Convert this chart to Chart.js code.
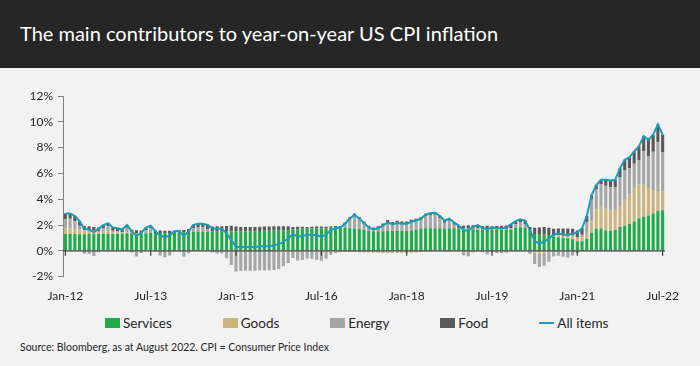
<!DOCTYPE html>
<html>
<head>
<meta charset="utf-8">
<script src="https://cdn.jsdelivr.net/npm/chart.js@4.4.0/dist/chart.umd.min.js"></script>
<style>
  html, body { margin: 0; padding: 0; }
  body { width: 700px; height: 366px; background: #f2f2f2; font-family: Lato, 'Open Sans', sans-serif; position: relative; overflow: hidden; }
  #header { position: absolute; left: 0; top: 0; width: 700px; height: 68px; background: #262626; }
  #header h1 { position: absolute; left: 20px; top: 20px; margin: 0; font-size: 20px; line-height: 26px; font-weight: normal; color: #fff; white-space: nowrap; }
  #chartBox { position: absolute; left: 0; top: 68px; width: 700px; height: 239px; }
  #legend { position: absolute; left: 105px; top: 315px; display: flex; gap: 51px; font-size: 13.5px; color: #262626; line-height: 16px; }
  #legend .item { display: flex; align-items: center; }
  #legend .sw { display: inline-block; width: 15px; height: 10px; margin-right: 3px; }
  #legend .ln { display: inline-block; width: 15px; height: 2px; margin-right: 3px; }
  #source { position: absolute; left: 20px; top: 341px; font-size: 10.5px; color: #262626; white-space: nowrap; }
</style>
</head>
<body>
<div id="header"><h1>The main contributors to year-on-year US CPI inflation</h1></div>
<div id="chartBox"><canvas id="cpiChart" width="700" height="239"></canvas></div>
<div id="legend"></div>
<div id="source">Source: Bloomberg, as at August 2022. CPI = Consumer Price Index</div>
<script>
// month labels Jan-12 .. Jul-22
const monthNames = ['Jan', 'Feb', 'Mar', 'Apr', 'May', 'Jun', 'Jul', 'Aug', 'Sep', 'Oct', 'Nov', 'Dec'];
const years = ['12', '13', '14', '15', '16', '17', '18', '19', '20', '21', '22'];
const labels = [];
years.forEach(function (yr) {
  monthNames.forEach(function (m) {
    if (labels.length < 127) labels.push(m + '-' + yr);
  });
});
const shownTicks = ['Jan-12', 'Jul-13', 'Jan-15', 'Jul-16', 'Jan-18', 'Jul-19', 'Jan-21', 'Jul-22'];

// contributions, percentage points
const services = [
  1.30, 1.30, 1.30, 1.28, 1.28, 1.30, 1.30, 1.30, 1.32, 1.32, 1.33, 1.33,
  1.35, 1.36, 1.36, 1.35, 1.35, 1.37, 1.38, 1.38, 1.38, 1.37, 1.38, 1.40,
  1.42, 1.43, 1.45, 1.47, 1.48, 1.48, 1.50, 1.50, 1.50, 1.50, 1.50, 1.50,
  1.50, 1.50, 1.50, 1.52, 1.52, 1.53, 1.55, 1.55, 1.57, 1.58, 1.60, 1.62,
  1.65, 1.68, 1.70, 1.70, 1.72, 1.75, 1.75, 1.75, 1.78, 1.80, 1.80, 1.80,
  1.75, 1.72, 1.70, 1.62, 1.55, 1.52, 1.52, 1.52, 1.55, 1.53, 1.55, 1.55,
  1.55, 1.58, 1.65, 1.72, 1.75, 1.75, 1.75, 1.75, 1.72, 1.75, 1.75, 1.72,
  1.70, 1.68, 1.68, 1.65, 1.63, 1.65, 1.63, 1.65, 1.65, 1.63, 1.65, 1.80,
  1.83, 1.80, 1.55, 1.30, 1.25, 1.25, 1.22, 1.10, 1.05, 1.00, 0.98, 0.90,
  0.75, 0.75, 0.92, 1.40, 1.70, 1.73, 1.58, 1.55, 1.62, 1.85, 1.95, 2.07,
  2.27, 2.52, 2.64, 2.74, 2.90, 3.08, 3.15
];
const goods = [
  0.42, 0.40, 0.38, 0.35, 0.32, 0.30, 0.28, 0.24, 0.20, 0.17, 0.13, 0.10,
  0.08, 0.07, 0.05, 0.03, 0.02, 0.01, 0.00, 0.00, -0.01, -0.02, -0.02, -0.03,
  -0.03, -0.04, -0.04, -0.03, -0.03, -0.03, -0.03, -0.04, -0.04, -0.04, -0.05, -0.05,
  -0.05, -0.04, -0.04, -0.04, -0.03, -0.03, -0.03, -0.03, -0.04, -0.05, -0.05, -0.05,
  -0.05, -0.05, -0.05, -0.06, -0.06, -0.07, -0.08, -0.08, -0.08, -0.08, -0.09, -0.10,
  -0.10, -0.10, -0.12, -0.13, -0.14, -0.15, -0.16, -0.17, -0.18, -0.18, -0.18, -0.17,
  -0.17, -0.16, -0.14, -0.10, -0.08, -0.05, -0.04, -0.03, -0.02, -0.01, 0.00, 0.01,
  0.02, 0.03, 0.03, 0.03, 0.03, 0.02, 0.02, 0.03, 0.04, 0.05, 0.05, 0.05,
  0.03, 0.02, -0.02, -0.15, -0.20, -0.15, -0.08, 0.05, 0.15, 0.20, 0.25, 0.28,
  0.30, 0.28, 0.40, 0.90, 1.50, 1.75, 1.70, 1.60, 1.55, 1.65, 2.00, 2.30,
  2.55, 2.62, 2.48, 2.12, 1.82, 1.55, 1.45
];
const energy = [
  0.73, 0.78, 0.62, 0.31, -0.22, -0.25, -0.40, -0.11, 0.21, 0.41, 0.09, 0.08,
  0.00, 0.35, -0.13, -0.44, -0.17, 0.22, 0.37, -0.07, -0.36, -0.48, -0.34, -0.04,
  -0.02, -0.43, -0.15, 0.28, 0.32, 0.32, 0.18, -0.09, -0.16, -0.16, -0.52, -1.05,
  -1.55, -1.52, -1.50, -1.50, -1.52, -1.48, -1.50, -1.47, -1.45, -1.36, -1.15, -0.90,
  -0.50, -0.71, -0.67, -0.54, -0.56, -0.62, -0.70, -0.54, -0.22, -0.09, -0.03, 0.28,
  0.73, 1.06, 0.80, 0.54, 0.26, 0.14, 0.24, 0.44, 0.66, 0.52, 0.60, 0.52,
  0.52, 0.63, 0.64, 0.68, 0.93, 1.02, 1.04, 0.78, 0.45, 0.58, 0.27, 0.02,
  -0.34, -0.43, -0.13, 0.06, -0.12, -0.29, -0.10, -0.17, -0.19, -0.16, 0.07, 0.21,
  0.34, 0.25, -0.23, -0.88, -1.05, -1.00, -0.76, -0.45, -0.38, -0.47, -0.53, -0.36,
  -0.17, 0.22, 0.90, 1.67, 1.60, 1.70, 1.76, 1.80, 1.73, 2.18, 2.28, 2.03,
  1.93, 1.89, 2.59, 2.49, 2.95, 3.79, 3.05
];
const food = [
  0.45, 0.42, 0.40, 0.36, 0.32, 0.30, 0.27, 0.27, 0.27, 0.25, 0.25, 0.24,
  0.22, 0.22, 0.22, 0.21, 0.20, 0.20, 0.20, 0.19, 0.19, 0.18, 0.18, 0.17,
  0.18, 0.19, 0.24, 0.28, 0.33, 0.33, 0.35, 0.38, 0.40, 0.40, 0.42, 0.45,
  0.38, 0.35, 0.34, 0.32, 0.33, 0.33, 0.33, 0.33, 0.34, 0.33, 0.30, 0.28,
  0.20, 0.18, 0.17, 0.15, 0.15, 0.14, 0.13, 0.12, 0.12, 0.12, 0.12, 0.12,
  0.12, 0.12, 0.12, 0.12, 0.13, 0.14, 0.15, 0.16, 0.17, 0.18, 0.18, 0.20,
  0.20, 0.20, 0.20, 0.20, 0.20, 0.20, 0.20, 0.20, 0.20, 0.18, 0.18, 0.20,
  0.22, 0.27, 0.27, 0.26, 0.26, 0.27, 0.25, 0.24, 0.25, 0.28, 0.28, 0.24,
  0.25, 0.28, 0.30, 0.48, 0.55, 0.60, 0.57, 0.55, 0.53, 0.52, 0.50, 0.53,
  0.52, 0.50, 0.48, 0.33, 0.30, 0.32, 0.46, 0.50, 0.60, 0.72, 0.82, 0.85,
  0.95, 1.07, 1.19, 1.25, 1.33, 1.38, 1.35
];
// headline CPI, % y/y
const allItems = [
  2.9, 2.9, 2.7, 2.3, 1.7, 1.65, 1.45, 1.7, 2.0, 2.15, 1.8, 1.75,
  1.65, 2.0, 1.5, 1.15, 1.4, 1.8, 1.95, 1.5, 1.2, 1.05, 1.2, 1.5,
  1.55, 1.15, 1.5, 2.0, 2.1, 2.1, 2.0, 1.75, 1.7, 1.7, 1.35, 0.85,
  0.3, 0.3, 0.3, 0.3, 0.3, 0.35, 0.35, 0.38, 0.42, 0.5, 0.7, 0.95,
  1.3, 1.1, 1.15, 1.25, 1.25, 1.2, 1.1, 1.25, 1.6, 1.75, 1.8, 2.1,
  2.5, 2.8, 2.5, 2.15, 1.8, 1.65, 1.75, 1.95, 2.2, 2.05, 2.15, 2.1,
  2.1, 2.25, 2.35, 2.5, 2.8, 2.92, 2.95, 2.7, 2.35, 2.5, 2.2, 1.95,
  1.6, 1.55, 1.85, 2.0, 1.8, 1.65, 1.8, 1.75, 1.75, 1.8, 2.05, 2.3,
  2.45, 2.35, 1.6, 0.75, 0.55, 0.7, 0.95, 1.25, 1.35, 1.25, 1.2, 1.35,
  1.4, 1.75, 2.7, 4.3, 5.1, 5.5, 5.5, 5.45, 5.5, 6.4, 7.05, 7.25,
  7.7, 8.1, 8.9, 8.6, 9.0, 9.8, 9.0
];

const textColor = '#262626';
const tickFont = { family: 'Lato', size: 12 };

// zero line with the small x ticks hanging from it
const zeroAxis = {
  id: 'zeroAxis',
  afterDatasetsDraw(chart) {
    const ctx = chart.ctx;
    const x = chart.scales.x;
    const y0 = chart.scales.y.getPixelForValue(0);
    ctx.save();
    ctx.strokeStyle = '#3a3a3a';
    ctx.lineWidth = 1.2;
    ctx.beginPath();
    ctx.moveTo(chart.chartArea.left, y0);
    ctx.lineTo(chart.chartArea.right, y0);
    labels.forEach(function (l, i) {
      if (shownTicks.includes(l)) {
        const px = x.getPixelForValue(i);
        ctx.moveTo(px, y0);
        ctx.lineTo(px, y0 + 5);
      }
    });
    ctx.stroke();
    ctx.restore();
  }
};

function barSet(label, data, color) {
  return {
    label: label,
    data: data,
    backgroundColor: color,
    borderWidth: 0,
    barPercentage: 0.66,
    categoryPercentage: 1.0,
    order: 1
  };
}

const chart = new Chart(document.getElementById('cpiChart'), {
  type: 'bar',
  data: {
    labels: labels,
    datasets: [
      barSet('Services', services, '#20aa4a'),
      barSet('Goods', goods, '#cbb47e'),
      barSet('Energy', energy, '#a6a6a6'),
      barSet('Food', food, '#595959'),
      {
        type: 'line',
        label: 'All items',
        data: allItems,
        borderColor: '#1d9bb7',
        backgroundColor: '#1d9bb7',
        borderWidth: 2,
        pointRadius: 0,
        tension: 0,
        stack: 'line',
        order: 0
      }
    ]
  },
  options: {
    responsive: false,
    animation: false,
    devicePixelRatio: 1,
    layout: { padding: { top: 28, left: 20, right: 35, bottom: 0 } },
    plugins: {
      legend: { display: false },
      tooltip: { enabled: false }
    },
    scales: {
      x: {
        stacked: true,
        grid: { display: false },
        border: { display: false },
        ticks: {
          autoSkip: false,
          maxRotation: 0,
          minRotation: 0,
          padding: 4,
          color: textColor,
          font: tickFont,
          callback: function (v) {
            const l = this.getLabelForValue(v);
            return shownTicks.includes(l) ? l : '';
          }
        }
      },
      y: {
        stacked: true,
        min: -2,
        max: 12,
        ticks: {
          stepSize: 2,
          padding: 5,
          color: textColor,
          font: tickFont,
          callback: v => v + '%'
        },
        grid: { drawOnChartArea: false, drawTicks: true, tickLength: 5, color: '#808080' },
        border: { color: '#808080' },
        afterFit: function (scale) { scale.width = 43; }
      }
    }
  },
  plugins: [zeroAxis]
});

// legend built from the datasets
const legendBox = document.getElementById('legend');
chart.data.datasets.forEach(function (ds) {
  const item = document.createElement('span');
  item.className = 'item';
  const sw = document.createElement('span');
  sw.className = ds.type === 'line' ? 'ln' : 'sw';
  sw.style.background = ds.type === 'line' ? ds.borderColor : ds.backgroundColor;
  item.appendChild(sw);
  item.appendChild(document.createTextNode(ds.label));
  legendBox.appendChild(item);
});
</script>
</body>
</html>
